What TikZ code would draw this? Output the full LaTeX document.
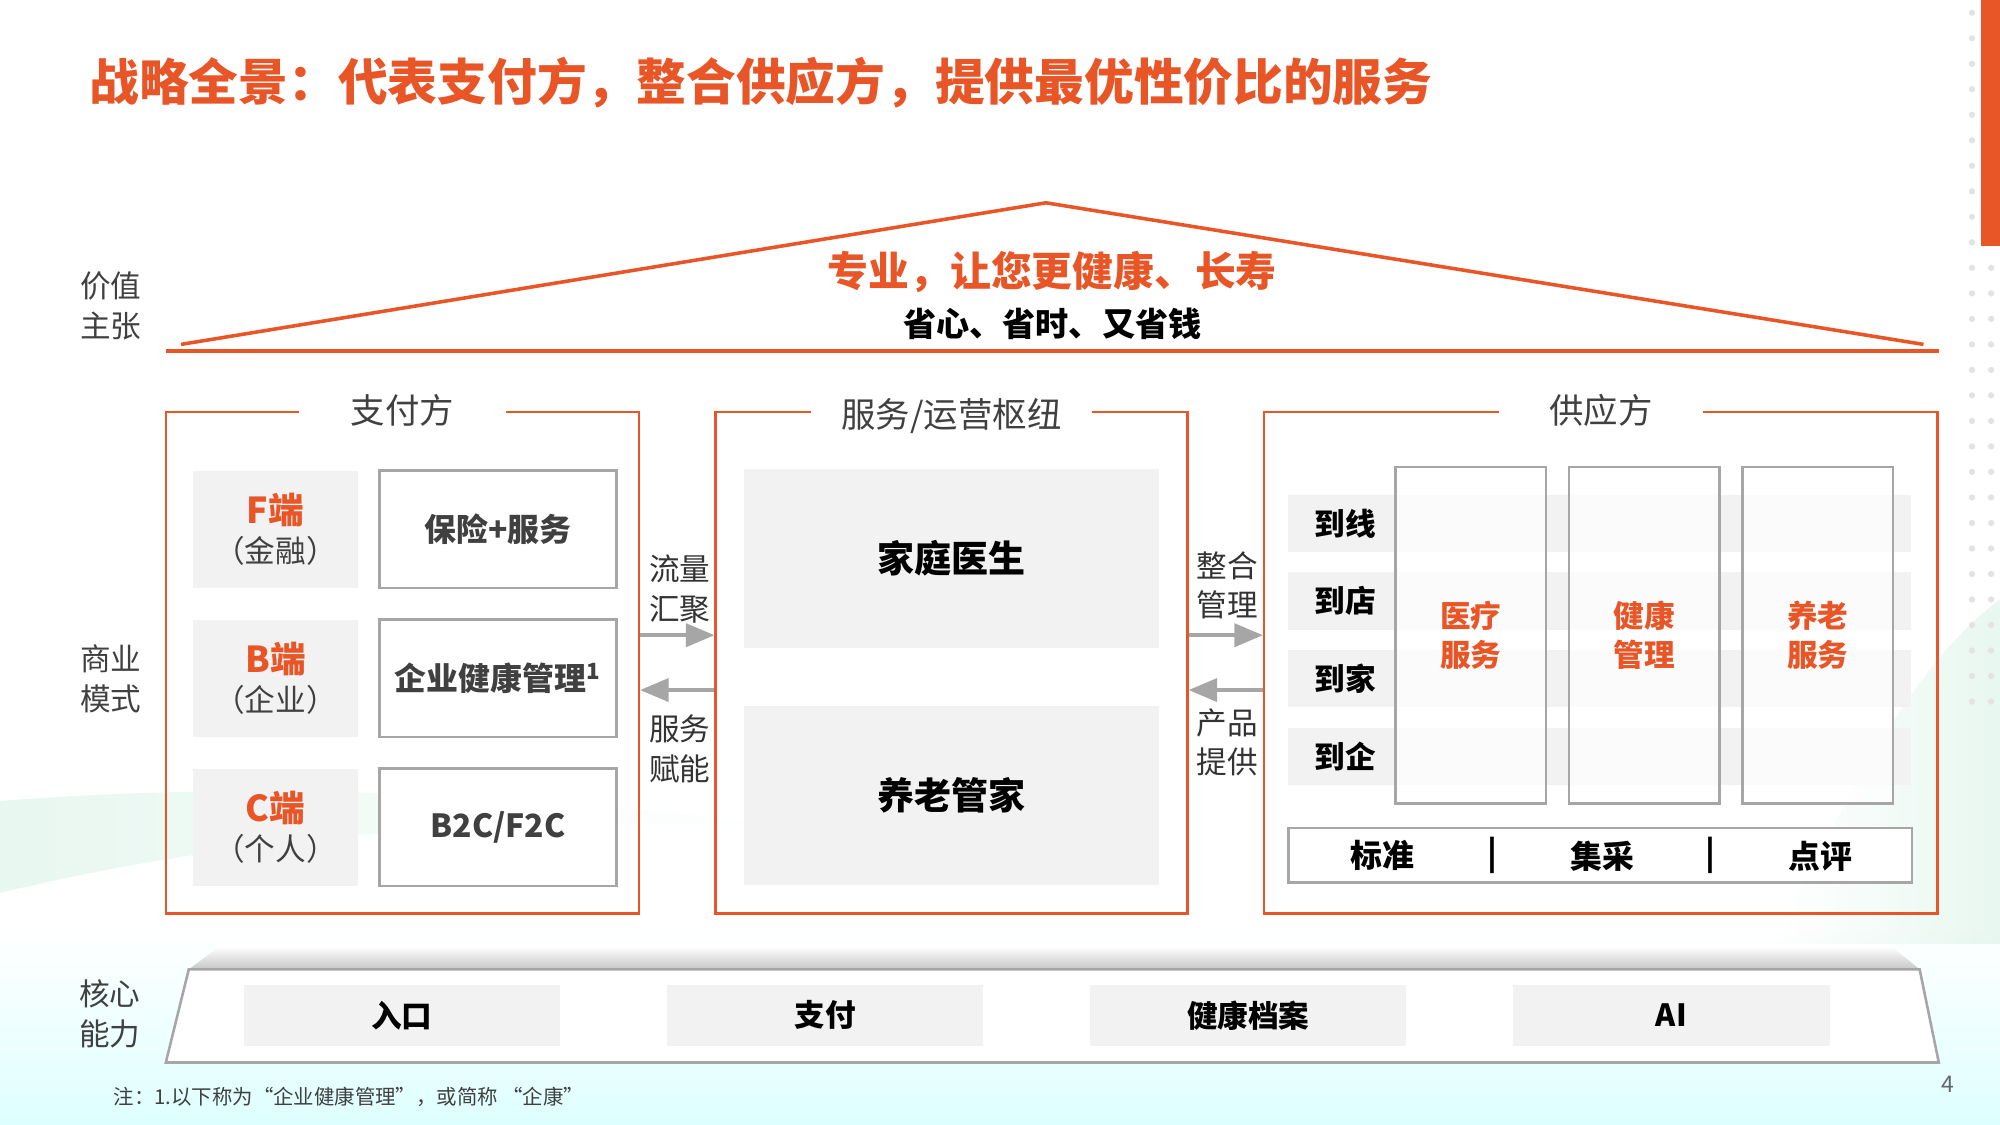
\documentclass[tikz,border=0pt]{standalone}
\usepackage{fontspec}
\setmainfont{Noto Sans CJK SC}
\usepackage{tikz}
\usetikzlibrary{positioning}
\usetikzlibrary{arrows}

\definecolor{accent}{RGB}{232,86,40}
\definecolor{txtgray}{RGB}{64,64,64}
\definecolor{boxgray}{RGB}{242,242,242}
\definecolor{linegray}{RGB}{166,166,166}

\newcommand{\fs}[1]{\fontsize{#1}{15.5}\selectfont}

\begin{document}
\begin{tikzpicture}[x=0.5pt, y=-0.5pt, node distance=12pt,
  frame/.style = {draw=accent, line width=1pt, inner sep=0pt},
  head/.style = {fill=white, text=txtgray, font=\fs{13.5}, minimum height=22pt, inner sep=0pt},
  side/.style = {text=txtgray, align=center, font=\fs{12}},
  gbox/.style = {fill=boxgray, inner sep=0pt, align=center},
  wbox/.style = {draw=linegray, line width=1pt, fill=white, inner sep=0pt, align=center},
  arr/.style = {linegray, line width=1.6pt, -triangle 45},
  roof/.style = {accent, line width=1.4pt},
  strong/.style = {font=\fs{12}\bfseries, text=black, align=center}]

\useasboundingbox (0,0) rectangle (1568,882);

\shade[top color=white, bottom color=cyan!13] (0,730) rectangle (1568,882);
\shade[left color=green!30!teal!50, right color=white, opacity=0.18] (0,628) .. controls (200,612) and (420,622) .. (620,648) .. controls (400,640) and (200,652) .. (0,700) -- cycle;
\shade[left color=white, right color=green!30!teal!50, opacity=0.18] (1568,470) .. controls (1500,520) and (1450,620) .. (1390,740) -- (1568,740) -- cycle;
\foreach \y in {10,30,...,550} {
  \fill[gray!22] (1546,\y) circle (2.5);
  \fill[gray!22] (1561,\y) circle (2.5);
}
\fill[accent] (1553,0) rectangle (1568,193);

\node[anchor=west, text=accent, font=\fontsize{19.5}{20}\selectfont\bfseries] (title) at (63,65) {战略全景：代表支付方，整合供应方，提供最优性价比的服务};

\draw[roof] (142,270) -- (820,159) -- (1508,270);
\draw[roof] (130,275) -- (1520,275);
\node[text=accent, font=\fs{16}\bfseries] (slogan) at (825,213) {专业，让您更健康、长寿};
\node[text=black, font=\fs{13}\bfseries] (subslogan) at (825,254) {省心、省时、又省钱};

\node[side] (v) at (87,240) {价值\\主张};
\node[side] (b) at (87,532) {商业\\模式};
\node[side] (k) at (86,795) {核心\\能力};

\node[frame, minimum width=185.5pt, minimum height=196.5pt] (L) at (315.5,519.5) {};
\node[frame, minimum width=185pt, minimum height=196.5pt] (M) at (746,519.5) {};
\node[frame, minimum width=264pt, minimum height=196.5pt] (R) at (1255,519.5) {};
\node[head, minimum width=81pt] (Lh) at (L.north) {支付方};
\node[head, minimum width=110pt] (Mh) at ([yshift=-2pt]M.north) {服务/运营枢纽};
\node[head, minimum width=80pt] (Rh) at (R.north) {供应方};

\node[gbox, minimum width=65pt, minimum height=46pt, font=\fs{12}] (F) at (216,415) {\textcolor{accent}{\fs{14}\bfseries F端}\\\textcolor{txtgray}{（金融）}};
\node[gbox, minimum width=65pt, minimum height=46pt, font=\fs{12}, below=of F] (B) {\textcolor{accent}{\fs{14}\bfseries B端}\\\textcolor{txtgray}{（企业）}};
\node[gbox, minimum width=65pt, minimum height=46pt, font=\fs{12}, below=of B] (C) {\textcolor{accent}{\fs{14}\bfseries C端}\\\textcolor{txtgray}{（个人）}};
\node[wbox, minimum width=93pt, minimum height=46pt, text=txtgray, font=\fs{12.5}\bfseries, right=7.5pt of F] (F2) {保险+服务};
\node[wbox, minimum width=93pt, minimum height=46pt, text=txtgray, font=\fs{12.5}\bfseries, right=7.5pt of B] (B2) {企业健康管理\textsuperscript{1}};
\node[wbox, minimum width=93pt, minimum height=46pt, text=txtgray, font=\fs{12.5}\bfseries, right=7.5pt of C] (C2) {B2C/F2C};

\node[gbox, minimum width=163pt, minimum height=70pt, font=\fs{14.5}\bfseries] (doc) at (746,438) {家庭医生};
\node[gbox, minimum width=163pt, minimum height=70pt, font=\fs{14.5}\bfseries, below=22.5pt of doc] (care) {养老管家};

\coordinate (ya) at (0,498);
\coordinate (yb) at (0,541);
\draw[arr] (L.east |- ya) -- (M.west |- ya);
\draw[arr] (M.west |- yb) -- (L.east |- yb);
\draw[arr] (M.east |- ya) -- (R.west |- ya);
\draw[arr] (R.west |- yb) -- (M.east |- yb);
\node[side, text=black!80] (a1) at (533,462) {流量\\汇聚};
\node[side, text=black!80] (a2) at (533,587) {服务\\赋能};
\node[side, text=black!80] (a3) at (962,459) {整合\\管理};
\node[side, text=black!80] (a4) at (962,582) {产品\\提供};

\node[gbox, minimum width=244pt, minimum height=22.5pt] (r1) at (1254,410.5) {};
\node[gbox, minimum width=244pt, minimum height=22.5pt, below=7.5pt of r1] (r2) {};
\node[gbox, minimum width=244pt, minimum height=22.5pt, below=7.5pt of r2] (r3) {};
\node[gbox, minimum width=244pt, minimum height=22.5pt, below=7.5pt of r3] (r4) {};
\node[strong, right=7pt of r1.west] (t1) {到线};
\node[strong, right=7pt of r2.west] (t2) {到店};
\node[strong, right=7pt of r3.west] (t3) {到家};
\node[strong, right=7pt of r4.west] (t4) {到企};

\node[wbox, fill opacity=0.75, text opacity=1, minimum width=59pt, minimum height=132pt, text=accent, font=\fs{12}\bfseries] (c1) at (1153,498) {医疗\\服务};
\node[wbox, fill opacity=0.75, text opacity=1, minimum width=59pt, minimum height=132pt, text=accent, font=\fs{12}\bfseries, right=8pt of c1] (c2) {健康\\管理};
\node[wbox, fill opacity=0.75, text opacity=1, minimum width=59pt, minimum height=132pt, text=accent, font=\fs{12}\bfseries, right=8pt of c2] (c3) {养老\\服务};

\node[wbox, minimum width=244.5pt, minimum height=21.5pt] (bar) at (1254.5,670.5) {};
\node[strong, font=\fs{12.5}\bfseries] (q1) at (1084,671) {标准};
\node[strong, font=\fs{12.5}\bfseries] (q2) at (1170,671) {|};
\node[strong, font=\fs{12.5}\bfseries] (q3) at (1256,671) {集采};
\node[strong, font=\fs{12.5}\bfseries] (q4) at (1341,671) {|};
\node[strong, font=\fs{12.5}\bfseries] (q5) at (1427,671) {点评};

\shade[top color=white, bottom color=gray!45] (172,742) -- (1483,742) -- (1505,760) -- (148,760) -- cycle;
\draw[linegray, line width=1pt, fill=white] (148,760) -- (1505,760) -- (1520,833) -- (130,833) -- cycle;
\node[gbox, minimum width=124pt, minimum height=24pt, font=\fs{12}\bfseries] (p1) at (315,796) {入口};
\node[gbox, minimum width=124pt, minimum height=24pt, font=\fs{12}\bfseries, right=41.5pt of p1] (p2) {支付};
\node[gbox, minimum width=124pt, minimum height=24pt, font=\fs{12}\bfseries, right=41.5pt of p2] (p3) {健康档案};
\node[gbox, minimum width=124pt, minimum height=24pt, font=\fs{12}\bfseries, right=41.5pt of p3] (p4) {AI};

\node[anchor=west, text=txtgray, font=\fs{8}] (note) at (82,860) {注：1.以下称为“企业健康管理”，或简称 “企康”};
\node[text=txtgray!80, font=\fs{9}] (page) at (1527,850) {4};

\end{tikzpicture}
\end{document}
